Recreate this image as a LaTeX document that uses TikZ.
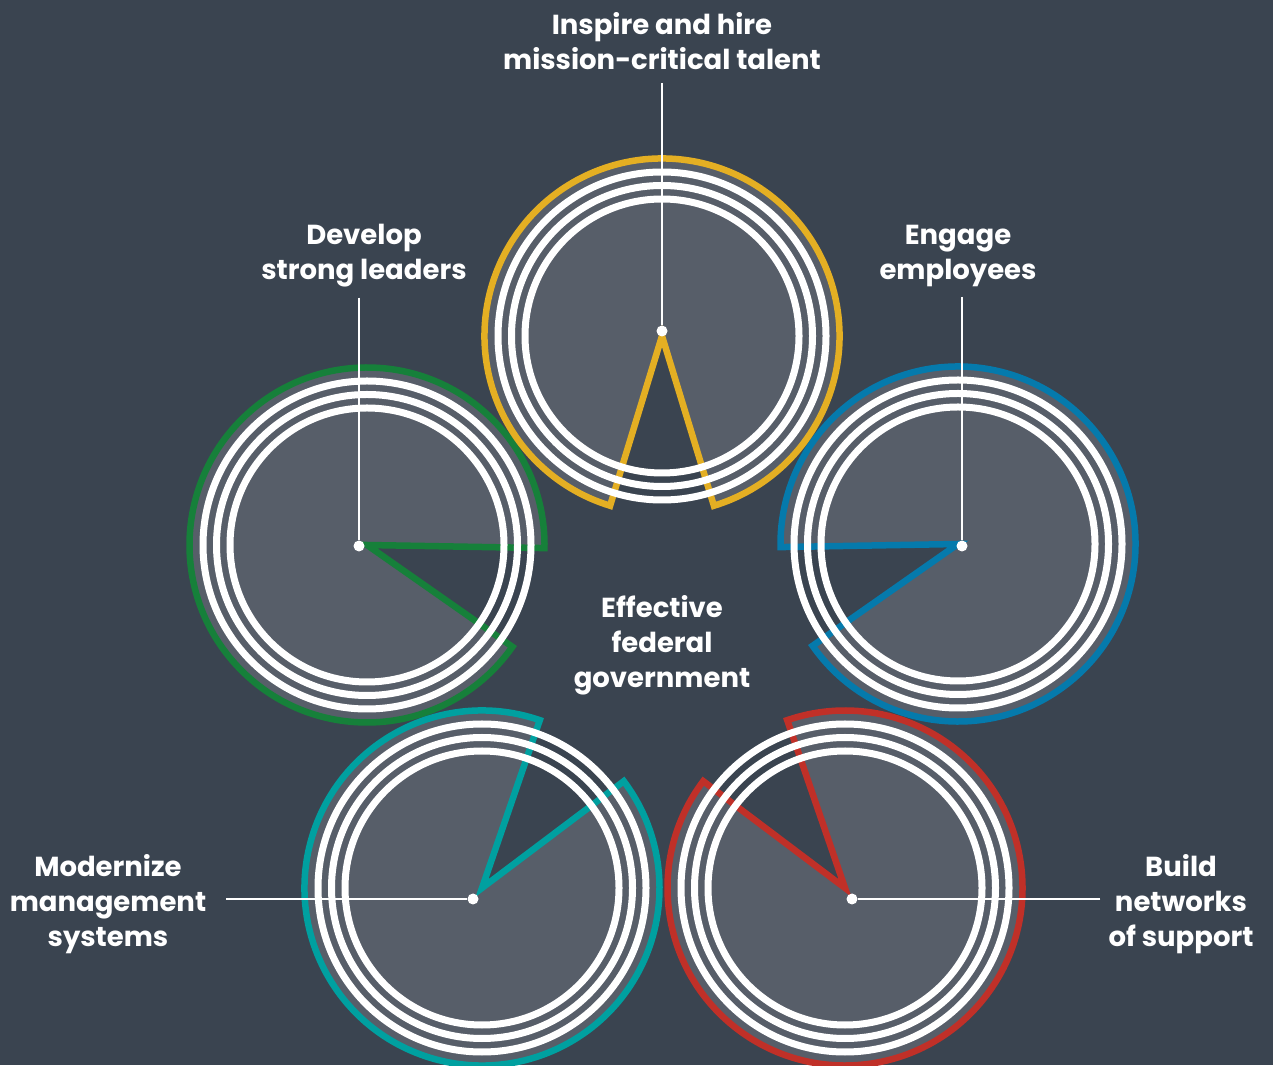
\documentclass[tikz,border=0pt]{standalone}
\usepackage{fontspec}
\setmainfont{Poppins}
\usetikzlibrary{calc}
\definecolor{bgslate}{RGB}{58,68,80}
\definecolor{discgray}{RGB}{87,94,105}
\definecolor{goldarc}{RGB}{228,175,35}
\definecolor{greenarc}{RGB}{22,128,58}
\definecolor{bluearc}{RGB}{5,122,172}
\definecolor{tealarc}{RGB}{0,160,160}
\definecolor{redarc}{RGB}{192,48,40}

\begin{document}
\begin{tikzpicture}[x=1pt,y=1pt,
    lbl/.style={text=white,font=\bfseries\fontsize{27.5}{35}\selectfont,align=center,inner sep=0pt},
    tick/.style={white,line width=2pt},
    ring/.style={white,line width=7pt},
    pin/.style={circle,fill=white,inner sep=0pt,minimum size=11pt}]
  \useasboundingbox (0,0) rectangle (1273,1065);
  \clip (0,0) rectangle (1273,1065);
  \fill[bgslate] (0,0) rectangle (1273,1065);
  % five discs round the centre, wedge pointing inwards
  \foreach \n/\x/\y/\a/\c in {lead/367/520/162/greenarc, eng/958/521/18/bluearc,
      mod/482/177/234/tealarc, net/845/177/306/redarc, hire/662/729/90/goldarc}{
    \coordinate (\n) at (\x,\y);
    \pgfmathsetmacro{\wdir}{\a+180}
    \filldraw[fill=discgray,draw=\c,line width=6.5pt,line join=miter]
      (\n) -- ++(\wdir+17:177.5) arc[start angle=\wdir+17,end angle=\wdir+343,radius=177.5] -- cycle;
    \foreach \r in {164,150.5,137}
      \draw[ring] (\n) circle[radius=\r];
  }
  \node[pin] (hiredot) at (662,734) {};
  \node[pin] (leaddot) at (359,519) {};
  \node[pin] (engdot) at (962,519) {};
  \node[pin] (moddot) at (473,166) {};
  \node[pin] (netdot) at (852,166) {};

  \node[lbl] (hirelbl) at (662,1024) {Inspire and hire\\mission-critical talent};
  \node[lbl] (leadlbl) at (364,809) {Develop\\strong leaders};
  \node[lbl] (englbl) at (958,809) {Engage\\employees};
  \node[lbl] (modlbl) at (108,161) {Modernize\\management\\systems};
  \node[lbl] (netlbl) at (1181,161) {Build\\networks\\of support};
  \node[lbl] (goal) at (662,420) {Effective\\federal\\government};

  \draw[tick,shorten <=13pt] (hirelbl.south -| hiredot) -- (hiredot);
  \draw[tick,shorten <=10pt] (leadlbl.south -| leaddot) -- (leaddot);
  \draw[tick,shorten <=10pt] (englbl.south -| engdot) -- (engdot);
  \draw[tick,shorten <=20pt] (modlbl.east |- moddot) -- (moddot);
  \draw[tick,shorten <=8pt] (netlbl.west |- netdot) -- (netdot);
\end{tikzpicture}
\end{document}
